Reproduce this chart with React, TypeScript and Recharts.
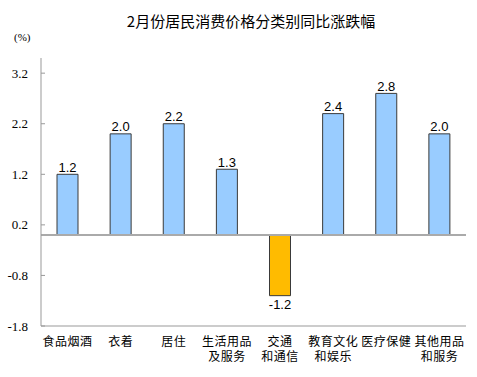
import React from 'react';
import { BarChart, Bar, XAxis, YAxis, Cell, LabelList, ReferenceLine } from 'recharts';

const categories = ['食品烟酒', '衣着', '居住', '生活用品\n及服务', '交通\n和通信', '教育文化\n和娱乐', '医疗保健', '其他用品\n和服务'];
const values = [1.2, 2.0, 2.2, 1.3, -1.2, 2.4, 2.8, 2.0];
const yTicks = [-1.8, -0.8, 0.2, 1.2, 2.2, 3.2];
const yDomain = [-1.8, 3.5];

const data = categories.map((c, i) => ({ name: c, value: values[i] }));

const FRAME = '#999999';

const YTick = (props: any) => {
  const { x, y, payload } = props;
  return (
    <g>
      <line x1={x + 13} x2={x + 17} y1={y} y2={y} stroke={FRAME} strokeWidth={1} />
      <text x={x} y={y} dy={4.5} textAnchor="end" fontFamily="'Liberation Serif', 'Times New Roman', serif" fontSize={13} fill="#000">
        {payload.value.toFixed(1)}
      </text>
    </g>
  );
};

const XTick = (props: any) => {
  const { x, y, payload } = props;
  const lines = String(payload.value).split('\n');
  return (
    <g>
      {lines.map((l, i) => (
        <text key={i} x={x} y={y + 19.5 + i * 15} textAnchor="middle" fontFamily="'Noto Sans CJK SC', sans-serif" fontSize={12} fill="#000" letterSpacing={0.5}>
          {l}
        </text>
      ))}
    </g>
  );
};

const ValueLabel = (props: any) => {
  const { x, y, width, height, value } = props;
  const top = Math.min(y, y + height);
  const bottom = Math.max(y, y + height);
  const cx = x + width / 2;
  const ty = value >= 0 ? top - 2.5 : bottom + 13;
  return (
    <text x={cx} y={ty} textAnchor="middle" fontFamily="'Liberation Sans', Arial, sans-serif" fontSize={13} fill="#000">
      {Number(value).toFixed(1)}
    </text>
  );
};

export default function App() {
  return (
    <div style={{ position: 'absolute', left: 0, top: 0, width: 477, height: 377, background: '#fff' }}>
      <div style={{ position: 'absolute', left: 0, top: 11, width: 502, textAlign: 'center', fontFamily: "'Noto Sans CJK SC', sans-serif", fontSize: 15, color: '#000', lineHeight: '20px' }}>
        2月份居民消费价格分类别同比涨跌幅
      </div>
      <div style={{ position: 'absolute', left: 14, top: 30, fontFamily: "'Liberation Serif', serif", fontSize: 11, color: '#000', lineHeight: '14px' }}>
        (%)
      </div>
      <BarChart width={477} height={377} data={data} margin={{ top: 58, right: 11, bottom: 0, left: 0 }} barSize={21}>
        <XAxis dataKey="name" interval={0} tick={<XTick />} tickLine={false} tickSize={0} tickMargin={0} height={51} axisLine={{ stroke: FRAME }} />
        <XAxis xAxisId="top" dataKey="name" orientation="top" tick={false} tickLine={false} height={0} axisLine={{ stroke: FRAME }} />
        <YAxis type="number" domain={yDomain} ticks={yTicks} width={41} tick={<YTick />} tickLine={false} tickSize={0} tickMargin={13} axisLine={{ stroke: FRAME }} allowDataOverflow />
        <YAxis yAxisId="right" orientation="right" type="number" domain={yDomain} tick={false} tickLine={false} width={0} axisLine={{ stroke: FRAME }} />
        <ReferenceLine y={0} stroke="#aaaaaa" strokeWidth={2} />
        <Bar dataKey="value" isAnimationActive={false} stroke="#3a3a3a" strokeWidth={1}>
          {data.map((d, i) => (
            <Cell key={i} fill={d.value >= 0 ? '#99CCFF' : '#FFBB00'} />
          ))}
          <LabelList dataKey="value" content={<ValueLabel />} />
        </Bar>
      </BarChart>
    </div>
  );
}
